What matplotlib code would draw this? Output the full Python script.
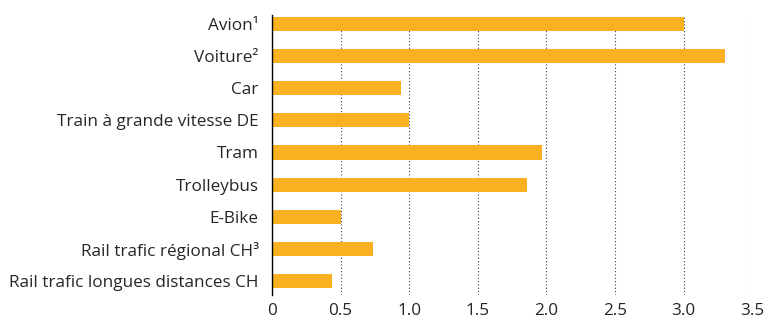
import matplotlib.pyplot as plt

categories = ['Avion¹', 'Voiture²', 'Car', 'Train à grande vitesse DE', 'Tram',
              'Trolleybus', 'E-Bike', 'Rail trafic régional CH³',
              'Rail trafic longues distances CH']
values = [3.0, 3.3, 0.94, 1.0, 1.97, 1.86, 0.5, 0.74, 0.44]
xticks = [0, 0.5, 1.0, 1.5, 2.0, 2.5, 3.0, 3.5]
xticklabels = ['0', '0.5', '1.0', '1.5', '2.0', '2.5', '3.0', '3.5']

plt.rcParams['font.family'] = ['Open Sans', 'DejaVu Sans']

fig = plt.figure(figsize=(7.66, 3.22), dpi=100)
ax = fig.add_axes([0.355, 0.084, 0.627, 0.869])

pos = list(range(len(categories)))
ax.barh(pos, values, height=0.44, color='#f9b121', zorder=2)

ax.set_xlim(0, 3.5)
ax.set_ylim(8.44, -0.28)
ax.set_yticks(pos)
ax.set_yticklabels(categories, fontsize=12.3, color='#262626')
ax.set_xticks(xticks)
ax.set_xticklabels(xticklabels, fontsize=12.3, color='#262626')
ax.tick_params(axis='y', length=0, pad=9.5)
ax.tick_params(axis='x', length=0, pad=6)

# dotted guides, none at 0 where the axis line sits
for x in xticks[1:]:
    ax.axvline(x, color='#444444', linestyle=(0, (1, 2)), linewidth=0.8, zorder=1)

for s in ['top', 'right', 'bottom']:
    ax.spines[s].set_visible(False)
ax.spines['left'].set_color('black')
ax.spines['left'].set_linewidth(1.0)
ax.spines['left'].set_zorder(3)

fig.savefig('out.png', dpi=100)
